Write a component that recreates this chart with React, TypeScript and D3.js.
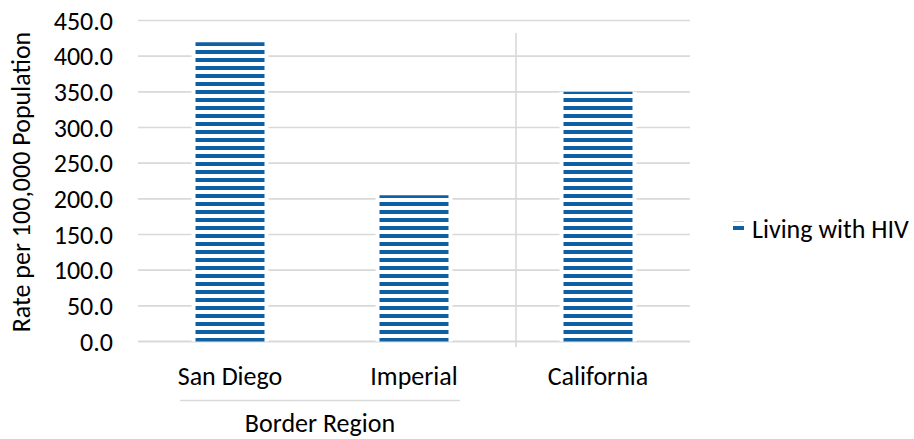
import React from "react";
import * as d3 from "d3";

// Rate of people living with HIV per 100,000 population
const categories = ["San Diego", "Imperial", "California"];
const livingWithHiv = [419.5, 205, 350];
const yTicks = [0, 50, 100, 150, 200, 250, 300, 350, 400, 450];
const seriesName = "Living with HIV";
const groupLabel = "Border Region";
const yTitle = "Rate per 100,000 Population";

const W = 914;
const H = 439;
const FONT = "Carlito, Calibri, 'Open Sans', sans-serif";
const FS = 26;
const BLUE = "#0f5fa3";
const GRID = "#d9d9d9";

export default function App() {
  const plotLeft = 138;
  const plotRight = 690;
  const y = d3.scaleLinear().domain([0, 450]).range([341.5, 20.5]);
  const x = d3
    .scaleBand<string>()
    .domain(categories)
    .range([plotLeft, plotRight])
    .paddingInner(0.625)
    .paddingOuter(0.3125);
  const step = x.step();
  const fmt = d3.format(".1f");
  const dividerX = plotLeft + step * 2 + 10;

  return (
    <svg
      width={W}
      height={H}
      style={{ position: "absolute", left: 0, top: 0, background: "#fff" }}
      fontFamily={FONT}
    >
      <defs>
        <pattern
          id="stripes"
          patternUnits="userSpaceOnUse"
          x={0}
          y={2}
          width={8}
          height={8}
        >
          <rect x={0} y={0} width={8} height={4} fill={BLUE} />
        </pattern>
      </defs>

      {/* horizontal gridlines */}
      {yTicks.map((t) => (
        <line
          key={t}
          x1={plotLeft}
          x2={plotRight}
          y1={y(t)}
          y2={y(t)}
          stroke={GRID}
          strokeWidth={t === 0 ? 2 : 1.6}
        />
      ))}

      {/* divider between the border-region group and the state */}
      <line
        x1={dividerX}
        x2={dividerX}
        y1={33}
        y2={347}
        stroke={GRID}
        strokeWidth={1.6}
      />

      {/* bars: white backing then horizontal stripe pattern */}
      {categories.map((c, i) => {
        const bx = x(c)!;
        const bw = x.bandwidth();
        const top = y(livingWithHiv[i]);
        const h = y(0) - top;
        return (
          <g key={c}>
            <rect x={bx - 4} y={top} width={bw + 8} height={h} fill="#fff" />
            <rect x={bx} y={top} width={bw} height={h} fill="url(#stripes)" />
          </g>
        );
      })}

      {/* y tick labels */}
      {yTicks.map((t) => (
        <text
          key={t}
          x={113}
          y={y(t)}
          dy="0.35em"
          textAnchor="end"
          fontSize={FS}
          fill="#000"
        >
          {fmt(t)}
        </text>
      ))}

      {/* y axis title */}
      <text
        transform={`translate(30,${(y(0) + y(450)) / 2 + 1}) rotate(-90)`}
        textAnchor="middle"
        fontSize={FS}
        fill="#000"
      >
        {yTitle}
      </text>

      {/* category labels */}
      {categories.map((c) => (
        <text
          key={c}
          x={x(c)! + x.bandwidth() / 2}
          y={385}
          textAnchor="middle"
          fontSize={FS}
          fill="#000"
        >
          {c}
        </text>
      ))}

      {/* group bracket line and group label */}
      <line x1={180} x2={460} y1={400.5} y2={400.5} stroke={GRID} strokeWidth={1.6} />
      <text x={320} y={432} textAnchor="middle" fontSize={FS} fill="#000">
        {groupLabel}
      </text>

      {/* legend */}
      <rect x={733} y={221.7} width={11} height={9} fill="url(#stripes)" />
      <text x={752} y={229} dy="0.35em" fontSize={FS} fill="#000">
        {seriesName}
      </text>
    </svg>
  );
}
